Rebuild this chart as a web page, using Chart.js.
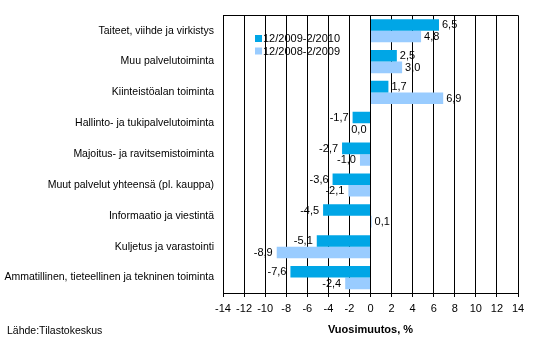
<!DOCTYPE html>
<html>
<head>
<meta charset="utf-8">
<script src="https://cdn.jsdelivr.net/npm/chart.js@4"></script>
<style>
html,body{margin:0;padding:0;background:#fff;}
canvas{display:block;}
</style>
</head>
<body>
<canvas id="c" width="533" height="356"></canvas>
<script>
const categories = [
  "Taiteet, viihde ja virkistys",
  "Muu palvelutoiminta",
  "Kiinteistöalan toiminta",
  "Hallinto- ja tukipalvelutoiminta",
  "Majoitus- ja ravitsemistoiminta",
  "Muut palvelut yhteensä (pl. kauppa)",
  "Informaatio ja viestintä",
  "Kuljetus ja varastointi",
  "Ammatillinen, tieteellinen ja tekninen toiminta"
];
const seriesNames = ["12/2009-2/2010", "12/2008-2/2009"];
const series2010 = [6.5, 2.5, 1.7, -1.7, -2.7, -3.6, -4.5, -5.1, -7.6];
const series2009 = [4.8, 3.0, 6.9, 0.0, -1.0, -2.1, 0.1, -8.9, -2.4];
const xTicks = [-14, -12, -10, -8, -6, -4, -2, 0, 2, 4, 6, 8, 10, 12, 14];
const axisTitle = "Vuosimuutos, %";
const sourceText = "Lähde:Tilastokeskus";
const colors = ["#00A6E6", "#99CCFF"];

const FONT = "'Liberation Sans', Arial, sans-serif";

const extras = {
  id: 'extras',
  afterDatasetsDraw(chart) {
    const ctx = chart.ctx;
    const area = chart.chartArea;
    ctx.save();
    // top border
    ctx.strokeStyle = '#000';
    ctx.lineWidth = 1;
    ctx.beginPath();
    ctx.moveTo(area.left, Math.round(area.top) + 0.5);
    ctx.lineTo(area.right, Math.round(area.top) + 0.5);
    ctx.stroke();
    // value labels
    ctx.font = "11px " + FONT;
    ctx.fillStyle = '#000';
    ctx.textBaseline = 'middle';
    chart.data.datasets.forEach((ds, di) => {
      const meta = chart.getDatasetMeta(di);
      meta.data.forEach((el, i) => {
        const v = ds.data[i];
        const txt = v.toFixed(1).replace('.', ',');
        if (v > 0) {
          ctx.textAlign = 'left';
          ctx.fillText(txt, el.x + 3, el.y + 0.5);
        } else {
          ctx.textAlign = 'right';
          ctx.fillText(txt, el.x - 4, el.y + 0.5);
        }
      });
    });
    // legend
    const ly = [38.5, 51];
    chart.data.datasets.forEach((ds, di) => {
      ctx.fillStyle = ds.backgroundColor;
      ctx.fillRect(255, ly[di] - 3.5, 7, 7);
      ctx.fillStyle = '#000';
      ctx.textAlign = 'left';
      ctx.fillText(ds.label, 263, ly[di] + 0.5);
    });
    // axis title
    ctx.font = "bold 11px " + FONT;
    ctx.textAlign = 'center';
    ctx.fillText(axisTitle, (area.left + area.right) / 2, 330);
    // source
    ctx.font = "10.5px " + FONT;
    ctx.textAlign = 'left';
    ctx.fillText(sourceText, 7, 331);
    ctx.restore();
  }
};

new Chart(document.getElementById('c'), {
  type: 'bar',
  data: {
    labels: categories,
    datasets: [
      { label: seriesNames[0], data: series2010, backgroundColor: colors[0], borderWidth: 0 },
      { label: seriesNames[1], data: series2009, backgroundColor: colors[1], borderWidth: 0 }
    ]
  },
  options: {
    indexAxis: 'y',
    responsive: false,
    animation: false,
    devicePixelRatio: 1,
    layout: { padding: { top: 15, right: 15, left: 0, bottom: 0 } },
    datasets: { bar: { categoryPercentage: 0.75, barPercentage: 1.0 } },
    plugins: { legend: { display: false }, tooltip: { enabled: false }, title: { display: false } },
    scales: {
      x: {
        type: 'linear',
        min: -14,
        max: 14,
        afterBuildTicks(scale) { scale.ticks = xTicks.map(v => ({ value: v })); },
        afterFit(scale) { scale.height = 63; },
        grid: { color: '#000', lineWidth: 1, tickLength: 4, drawTicks: true },
        border: { display: true, color: '#000', width: 1 },
        ticks: {
          color: '#000',
          font: { family: FONT, size: 11 },
          padding: 5,
          maxRotation: 0,
          autoSkip: false,
          callback: (v) => String(v)
        }
      },
      y: {
        type: 'category',
        afterFit(scale) { scale.width = 223; },
        grid: { display: false, drawTicks: false, tickLength: 0 },
        border: { display: true, color: '#000', width: 1 },
        ticks: {
          color: '#000',
          font: { family: FONT, size: 10.5 },
          padding: 9,
          autoSkip: false
        }
      }
    }
  },
  plugins: [extras]
});
</script>
</body>
</html>
